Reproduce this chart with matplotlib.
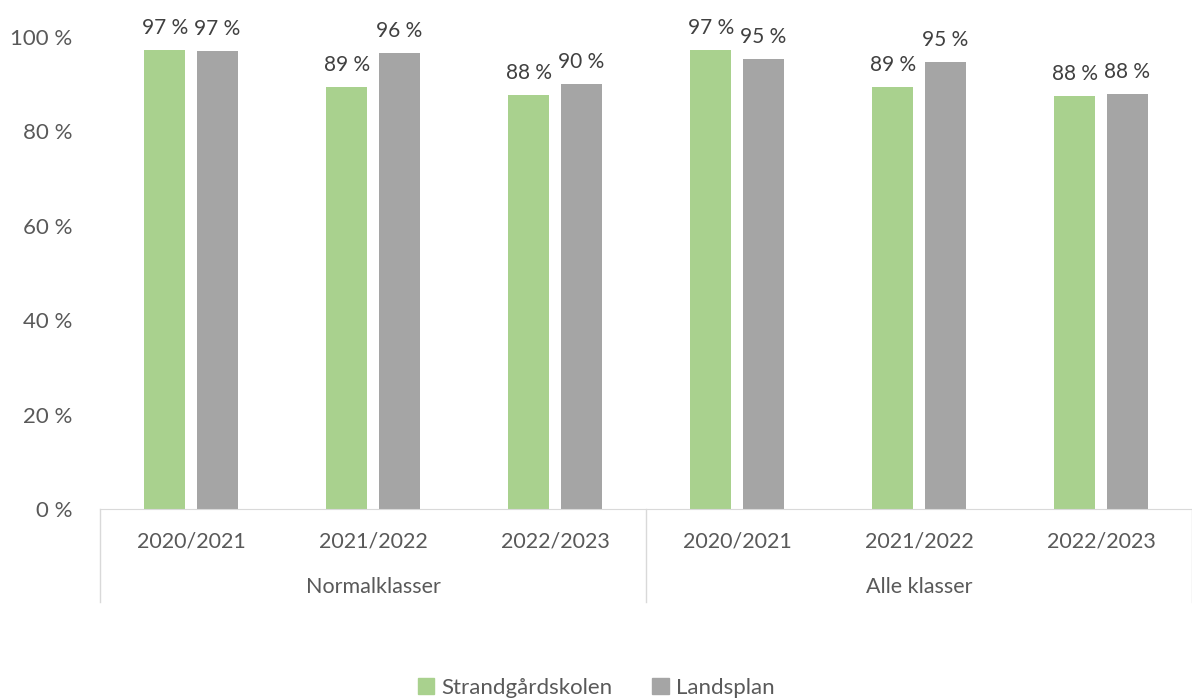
import numpy as np
import matplotlib.pyplot as plt
import matplotlib.transforms as mtransforms
from matplotlib.patches import Patch

plt.rcParams['font.family'] = ['Lato', 'DejaVu Sans']

# Data
years = ['2020/2021', '2021/2022', '2022/2023', '2020/2021', '2021/2022', '2022/2023']
groups = ['Normalklasser', 'Alle klasser']
strandgard = [97.2, 89.4, 87.7, 97.2, 89.4, 87.5]
landsplan = [97.0, 96.6, 90.0, 95.3, 94.7, 87.9]
label_strand = ['97 %', '89 %', '88 %', '97 %', '89 %', '88 %']
label_land = ['97 %', '96 %', '90 %', '95 %', '95 %', '88 %']

green = '#a9d18e'
gray = '#a5a5a5'
txt = '#595959'

fig = plt.figure(figsize=(11.92, 7.0), dpi=100)
ax = fig.add_axes([100 / 1192, 191 / 700, 1092 / 1192, 472 / 700])

x = np.arange(len(years))
w = 0.225
off = 0.143
ax.bar(x - off, strandgard, w, color=green)
ax.bar(x + off, landsplan, w, color=gray)

for xi, v, l in zip(x, strandgard, label_strand):
    ax.text(xi - off, v + 2.6, l, ha='center', va='bottom', fontsize=15, color='#404040', clip_on=False)
for xi, v, l in zip(x, landsplan, label_land):
    ax.text(xi + off, v + 2.6, l, ha='center', va='bottom', fontsize=15, color='#404040', clip_on=False)

ax.set_xlim(-0.5, 5.5)
ax.set_ylim(0, 100)
ax.set_yticks([0, 20, 40, 60, 80, 100])
ax.set_yticklabels([f'{t} %' for t in [0, 20, 40, 60, 80, 100]], fontsize=16, color=txt)
ax.tick_params(axis='y', length=0, pad=20)
ax.set_xticks(x)
ax.set_xticklabels(years, fontsize=15.5, color=txt)
ax.tick_params(axis='x', length=0, pad=16)

for s in ['top', 'right', 'left']:
    ax.spines[s].set_visible(False)
ax.spines['bottom'].set_color('#d9d9d9')

# group separators and group labels
trans = mtransforms.blended_transform_factory(ax.transData, ax.transAxes)
for xs in [-0.5, 2.5, 5.5]:
    ax.plot([xs, xs], [0, -93 / 472], color='#d9d9d9', lw=1, transform=trans, clip_on=False)
for gi, g in enumerate(groups):
    ax.text(1 + 3 * gi, -78 / 472, g, ha='center', va='center', fontsize=15.5, color=txt, transform=trans)

handles = [Patch(color=green, label='Strandgårdskolen'), Patch(color=gray, label='Landsplan')]
fig.legend(handles=handles, loc='center', bbox_to_anchor=(0.5, 12 / 700), ncol=2, frameon=False,
           fontsize=16, labelcolor=txt, handlelength=0.75, handleheight=0.75, handletextpad=0.3, columnspacing=1.8)

fig.savefig('out.png', dpi=100)
